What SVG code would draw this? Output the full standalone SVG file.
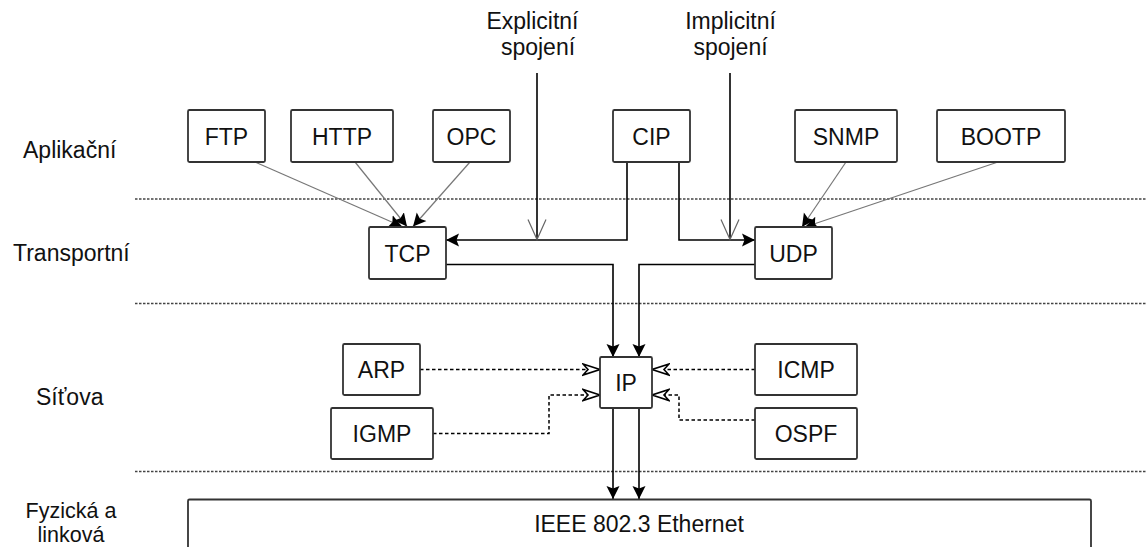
<svg xmlns="http://www.w3.org/2000/svg" width="1146" height="547" viewBox="0 0 1146 547">
<style>
  .box{fill:#fff;stroke:#333;stroke-width:1.8}
  .t{font-family:"Liberation Sans",Arial,sans-serif;font-size:23px;fill:#111;text-anchor:middle}
  .lbl{font-family:"Liberation Sans",Arial,sans-serif;font-size:23px;fill:#111}
  .sm{font-size:21.5px}
  .sep{stroke:#444;stroke-width:1.5;stroke-dasharray:2.5,1.5;fill:none}
  .thin{stroke:#777;stroke-width:1.2;fill:none}
  .solid{stroke:#000;stroke-width:1.6;fill:none}
  .dash{stroke:#000;stroke-width:1.5;stroke-dasharray:3.5,2.5;fill:none}
</style>
<defs>
  <marker id="fill" markerUnits="userSpaceOnUse" markerWidth="14" markerHeight="14" refX="13" refY="7" orient="auto">
    <path d="M0,0.5 L13,7 L0,13.5 L2.5,7 Z" fill="#000"/>
  </marker>
  <marker id="vee" markerUnits="userSpaceOnUse" markerWidth="24" markerHeight="22" refX="21" refY="10" orient="auto">
    <path d="M1,1 L21,10 L1,19" fill="none" stroke="#666" stroke-width="1.2"/>
  </marker>
  <marker id="barb" markerUnits="userSpaceOnUse" markerWidth="20" markerHeight="14" refX="18" refY="7" orient="auto">
    <path d="M18,7 L1,1.5 L6,7 L1,12.5 Z" fill="#fff" stroke="#000" stroke-width="1.6" stroke-linejoin="miter"/>
  </marker>
</defs>

<g id="separators">
  <line class="sep" x1="135" y1="199" x2="1146" y2="199"/>
  <line class="sep" x1="135" y1="303.5" x2="1146" y2="303.5"/>
  <line class="sep" x1="135" y1="471.5" x2="1146" y2="471.5"/>
</g>

<g id="layer-labels">
  <text class="lbl" x="23" y="158">Aplikační</text>
  <text class="lbl" x="13" y="261">Transportní</text>
  <text class="lbl" x="36" y="405">Síťova</text>
  <text class="t sm" x="71" y="517.5">Fyzická a</text>
  <text class="t sm" x="71" y="542">linková</text>
</g>

<g id="top-labels">
  <text class="t" x="532.5" y="28.5">Explicitní</text>
  <text class="t" x="538" y="54.5">spojení</text>
  <text class="t" x="730.5" y="28.5">Implicitní</text>
  <text class="t" x="730.5" y="54.5">spojení</text>
</g>

<g id="connectors">
  <line class="thin" x1="255" y1="162" x2="402" y2="226.5" marker-end="url(#fill)"/>
  <line class="thin" x1="355" y1="162" x2="407" y2="226.5" marker-end="url(#fill)"/>
  <line class="thin" x1="470" y1="162" x2="413" y2="226.5" marker-end="url(#fill)"/>
  <path class="solid" d="M627,162 V240 H446" marker-end="url(#fill)"/>
  <path class="solid" d="M537,73 V239.5" marker-end="url(#vee)"/>
  <path class="solid" d="M679,162 V240 H755" marker-end="url(#fill)"/>
  <path class="solid" d="M730,73 V239.5" marker-end="url(#vee)"/>
  <line class="thin" x1="846" y1="162" x2="802" y2="227" marker-end="url(#fill)"/>
  <line class="thin" x1="998" y1="162" x2="805" y2="227" marker-end="url(#fill)"/>
  <path class="solid" d="M446,264.5 H613 V357" marker-end="url(#fill)"/>
  <path class="solid" d="M755,264.5 H639 V357" marker-end="url(#fill)"/>
  <path class="dash" d="M420,369.5 H600" marker-end="url(#barb)"/>
  <path class="dash" d="M433,433.5 H549 V395 H600" marker-end="url(#barb)"/>
  <path class="dash" d="M755,369.5 H652" marker-end="url(#barb)"/>
  <path class="dash" d="M755,420 H679 V395 H652" marker-end="url(#barb)"/>
  <path class="solid" d="M613,408 V499" marker-end="url(#fill)"/>
  <path class="solid" d="M639,408 V499" marker-end="url(#fill)"/>
</g>

<g id="FTP"><rect class="box" x="188" y="110" width="77" height="52" rx="1.5"/><text class="t" x="226.5" y="145">FTP</text></g>
<g id="HTTP"><rect class="box" x="291" y="110" width="102" height="52" rx="1.5"/><text class="t" x="342" y="145">HTTP</text></g>
<g id="OPC"><rect class="box" x="433" y="110" width="77" height="52" rx="1.5"/><text class="t" x="471.5" y="145">OPC</text></g>
<g id="CIP"><rect class="box" x="613" y="110" width="77" height="52" rx="1.5"/><text class="t" x="651.5" y="145">CIP</text></g>
<g id="SNMP"><rect class="box" x="795" y="110" width="102" height="52" rx="1.5"/><text class="t" x="846" y="145">SNMP</text></g>
<g id="BOOTP"><rect class="box" x="937" y="110" width="128" height="52" rx="1.5"/><text class="t" x="1001" y="145">BOOTP</text></g>
<g id="TCP"><rect class="box" x="369" y="227" width="77" height="52" rx="1.5"/><text class="t" x="407.5" y="262">TCP</text></g>
<g id="UDP"><rect class="box" x="755" y="227" width="77" height="52" rx="1.5"/><text class="t" x="793.5" y="262">UDP</text></g>
<g id="IP"><rect class="box" x="600" y="357" width="52" height="51" rx="1.5"/><text class="t" x="626" y="391">IP</text></g>
<g id="ARP"><rect class="box" x="343" y="344" width="77" height="51" rx="1.5"/><text class="t" x="381.5" y="378">ARP</text></g>
<g id="IGMP"><rect class="box" x="331" y="408" width="102" height="51" rx="1.5"/><text class="t" x="382" y="442">IGMP</text></g>
<g id="ICMP"><rect class="box" x="755" y="344" width="102" height="51" rx="1.5"/><text class="t" x="806" y="378">ICMP</text></g>
<g id="OSPF"><rect class="box" x="755" y="408" width="102" height="51" rx="1.5"/><text class="t" x="806" y="442">OSPF</text></g>
<g id="Ethernet"><rect class="box" x="188" y="499.5" width="903" height="60" rx="1.5"/><text class="t" x="639" y="532">IEEE 802.3 Ethernet</text></g>
</svg>
